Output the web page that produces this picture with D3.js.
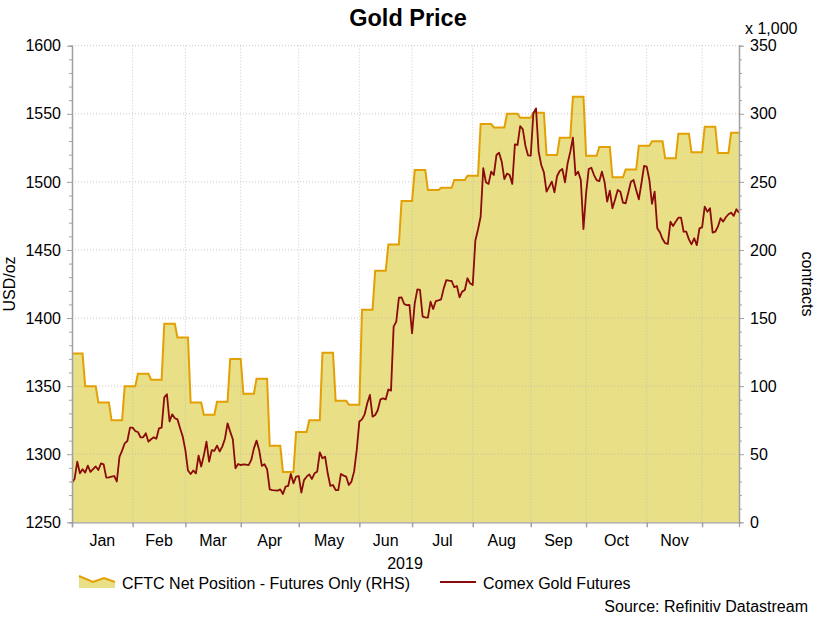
<!DOCTYPE html>
<html>
<head>
<meta charset="utf-8">
<script src="https://cdn.jsdelivr.net/npm/d3@7"></script>
<style>
  html, body { margin: 0; padding: 0; background: #ffffff; }
  svg { display: block; }
  text { font-family: Arial, "Liberation Sans", sans-serif; fill: #000; }
</style>
</head>
<body>
<svg id="chart" width="818" height="621"></svg>
<script>
// ---------------- DATA ----------------
const startDate = "2019-01-01";           // first trading day (weekday series)
const monthLabels = ["Jan","Feb","Mar","Apr","May","Jun","Jul","Aug","Sep","Oct","Nov"];
const yearLabel = "2019";

// Comex Gold Futures, USD/oz, daily (weekdays) from 2019-01-01 to 2019-12-20
const goldPrice = [
 1279,1282,1294.5,1286,1289,1286.5,1291.6,1287,1289,1291,
 1288.4,1293.3,1292.6,1282.8,1283,1283.5,1284,1280,1298,1302.6,
 1308,1309.7,1319.5,1319.5,1317,1316.3,1312.4,1312.4,1315.4,1309.2,
 1311,1312.4,1311.4,1319,1319.5,1341.8,1344,1324,1329.3,1326.4,
 1325.6,1319,1313,1303,1288,1285.5,1288,1286,1299,1291,
 1299,1309.2,1294.5,1303,1302.4,1306.3,1302,1305.6,1311.2,1322.7,
 1316.6,1311,1289.7,1292.8,1292,1292.6,1292.3,1292,1295.8,1304.3,
 1310,1303,1291.4,1292.6,1289,1274.2,1273.7,1273.5,1273.3,1274.2,
 1270.8,1276.2,1276.7,1285.5,1278.6,1283.5,1284,1271.8,1281,1283.5,
 1285.2,1281.8,1286,1287.2,1301.4,1297,1298.2,1286,1276.7,1277.4,
 1273.7,1273.7,1285.5,1284.3,1283.5,1277.4,1279.9,1287.2,1303,1324,
 1325.6,1329.3,1337.4,1343.5,1327.6,1328.8,1332.5,1340.3,1341,1340.3,
 1347.5,1346.7,1393.7,1397.4,1415,1415.2,1410.3,1409.5,1409.6,1388.8,
 1410.8,1421.1,1420.6,1401,1400.5,1400.3,1412,1406.6,1412.5,1413,
 1413.7,1421.8,1427.9,1427.5,1427.2,1422.6,1423.5,1415.2,1419.4,1420.6,
 1429.2,1425.5,1424.3,1457,1465,1474.4,1510,1499.7,1498.5,1507.5,
 1505,1519.7,1521.4,1514.8,1502,1506.1,1505,1498.5,1527.6,1527.1,
 1541,1538.6,1526.4,1519.4,1519.2,1550.4,1554,1522.2,1512.4,1507,
 1492.8,1496.5,1500.2,1492.3,1504.3,1508,1509.4,1499.7,1513.7,1522,
 1532.5,1505,1507.5,1501.3,1465.4,1491.6,1509.4,1510.4,1505,1501.3,
 1500.5,1507.5,1500,1485.5,1493.5,1480.6,1487,1494,1492.8,1484.7,
 1484.3,1492,1500.1,1501.4,1494,1487.2,1499,1511.7,1511.2,1501.4,
 1483.8,1492.8,1466,1463,1458,1455,1454.4,1470.8,1467.6,1470.8,
 1473.7,1473.7,1463.4,1463.4,1457.8,1454.2,1458.6,1453.6,1465.9,1466.6,
 1481.8,1478.1,1480.6,1462.7,1463.4,1467.1,1473.3,1470.8,1474,1476.2,
 1477.4,1475,1479.9,1477.4
];

// CFTC Net Position - Futures Only, contracts, weekly (each value held for 5 trading days)
const cftcWeekly = [
 124000,100000,88000,75000,100000,109000,104700,145800,135800,88000,
 79000,88500,120000,94400,105500,56300,37000,66300,75000,124500,
 89300,86400,156000,184800,204000,236000,258700,244000,245600,251400,
 254500,292500,290000,300000,297000,300800,269700,282400,312500,269200,
 275600,253400,259000,276600,279800,267300,285400,271700,290500,271200,
 286000
];
const daysPerWeek = 5;

const leftTicks = [1250,1300,1350,1400,1450,1500,1550,1600];
const rightTicks = [0,50000,100000,150000,200000,250000,300000,350000];

const titleText = "Gold Price";
const leftTitle = "USD/oz";
const rightTitle = "contracts";
const rightUnit = "x 1,000";
const legendArea = "CFTC Net Position - Futures Only (RHS)";
const legendLine = "Comex Gold Futures";
const sourceText = "Source: Refinitiv Datastream";

// ---------------- LAYOUT ----------------
const L = 72, R = 739, T = 45.7, B = 522.3;
const FS = 16;
const areaFill = "#e8df86", areaEdge = "#e3a004", goldColor = "#8b0a0a";
const svg = d3.select("#chart");

// weekday date list
const dates = [];
{
  let d = new Date(startDate + "T00:00:00");
  while (dates.length < goldPrice.length) {
    const wd = d.getDay();
    if (wd !== 0 && wd !== 6) dates.push(new Date(d));
    d = d3.timeDay.offset(d, 1);
  }
}
const N = dates.length;

const x = d3.scaleLinear().domain([0, N - 1]).range([L, R]);
const yL = d3.scaleLinear().domain([1250, 1600]).range([B, T]);
const yR = d3.scaleLinear().domain([0, 350000]).range([B, T]);

// month boundary indices
const monthStarts = [];
dates.forEach((d, i) => {
  if (i === 0 || d.getMonth() !== dates[i - 1].getMonth()) monthStarts.push(i);
});

// ---------------- CFTC AREA ----------------
const cftcPts = [];
cftcWeekly.forEach((v, k) => {
  const a = k * daysPerWeek;
  const b = Math.min(a + daysPerWeek - 1, N - 1);
  cftcPts.push({ i: a, v: v });
  cftcPts.push({ i: b, v: v });
});

const area = d3.area().x(d => x(d.i)).y0(yR(0)).y1(d => yR(d.v));
const topLine = d3.line().x(d => x(d.i)).y(d => yR(d.v));

svg.append("path").datum(cftcPts).attr("d", area).attr("fill", areaFill);

// ---------------- GRID ----------------
const grid = svg.append("g").attr("stroke", "#c9b4b4").attr("stroke-width", 1)
  .attr("stroke-dasharray", "1,2").attr("opacity", 0.8);
leftTicks.filter(t => t > 1250).forEach(t => {
  grid.append("line").attr("x1", L).attr("x2", R).attr("y1", yL(t)).attr("y2", yL(t));
});
monthStarts.filter(i => i > 0).forEach(i => {
  grid.append("line").attr("x1", x(i)).attr("x2", x(i)).attr("y1", T).attr("y2", B)
    .attr("stroke", "#b8c4b8");
});

svg.append("path").datum(cftcPts).attr("d", topLine)
  .attr("fill", "none").attr("stroke", areaEdge).attr("stroke-width", 2);

// ---------------- GOLD LINE ----------------
const goldLine = d3.line().x((d, i) => x(i)).y(d => yL(d));
svg.append("path").datum(goldPrice).attr("d", goldLine)
  .attr("fill", "none").attr("stroke", goldColor).attr("stroke-width", 1.8)
  .attr("stroke-linejoin", "round");

// ---------------- AXES ----------------
const axisColor = "#a0a0a0";
// left axis
const gL = svg.append("g").attr("transform", `translate(${L},0)`);
gL.call(d3.axisLeft(yL).tickValues(d3.range(1250, 1601, 10)).tickSize(3).tickFormat(""));
gL.select(".domain").attr("stroke", axisColor).attr("stroke-width", 1.5);
gL.selectAll(".tick line").attr("stroke", axisColor)
  .attr("x2", d => (d % 50 === 0 ? -5 : -3));
leftTicks.forEach(t => {
  svg.append("text").attr("x", 61).attr("y", yL(t) + 5.7).attr("text-anchor", "end")
    .attr("font-size", FS).text(t);
});

// right axis
const gR = svg.append("g").attr("transform", `translate(${R},0)`);
gR.call(d3.axisRight(yR).tickValues(d3.range(0, 350001, 10000)).tickSize(3).tickFormat(""));
gR.select(".domain").attr("stroke", axisColor).attr("stroke-width", 1.5);
gR.selectAll(".tick line").attr("stroke", axisColor)
  .attr("x2", d => (d % 50000 === 0 ? 5 : 3));
rightTicks.forEach(t => {
  svg.append("text").attr("x", 750).attr("y", yR(t) + 5.7).attr("text-anchor", "start")
    .attr("font-size", FS).text(d3.format("d")(t / 1000));
});
svg.append("text").attr("x", 745).attr("y", 34).attr("font-size", FS).text(rightUnit);

// bottom axis
const gB = svg.append("g").attr("transform", `translate(0,${B})`);
gB.call(d3.axisBottom(x).tickValues(monthStarts).tickSize(5).tickFormat(""));
gB.select(".domain").attr("stroke", axisColor).attr("stroke-width", 1.2);
gB.selectAll(".tick line").attr("stroke", axisColor).attr("stroke-width", 1.5);
monthLabels.forEach((m, k) => {
  const a = monthStarts[k], b = monthStarts[k + 1];
  svg.append("text").attr("x", (x(a) + x(b)) / 2).attr("y", 546)
    .attr("text-anchor", "middle").attr("font-size", FS).text(m);
});
svg.append("text").attr("x", 405).attr("y", 569).attr("text-anchor", "middle")
  .attr("font-size", FS).text(yearLabel);

// titles
svg.append("text").attr("x", 408).attr("y", 26).attr("text-anchor", "middle")
  .attr("font-size", 23.5).attr("font-weight", "bold").text(titleText);
svg.append("text").attr("transform", "translate(15,284) rotate(-90)")
  .attr("text-anchor", "middle").attr("font-size", FS).text(leftTitle);
svg.append("text").attr("transform", "translate(802,284) rotate(90)")
  .attr("text-anchor", "middle").attr("font-size", FS).text(rightTitle);

// legend
const lg = svg.append("g");
lg.append("path").attr("d", "M79,576 L93,582 L104,578 L115,582 L115,588 L79,588 Z")
  .attr("fill", areaFill);
lg.append("path").attr("d", "M79,576 L93,582 L104,578 L115,582")
  .attr("fill", "none").attr("stroke", areaEdge).attr("stroke-width", 2);
lg.append("text").attr("x", 122).attr("y", 588.5).attr("font-size", FS).text(legendArea);
lg.append("line").attr("x1", 440).attr("x2", 476).attr("y1", 582).attr("y2", 582)
  .attr("stroke", goldColor).attr("stroke-width", 2);
lg.append("text").attr("x", 483).attr("y", 588.5).attr("font-size", FS).text(legendLine);

// source
svg.append("text").attr("x", 808).attr("y", 612).attr("text-anchor", "end")
  .attr("font-size", FS).text(sourceText);
</script>
</body>
</html>
